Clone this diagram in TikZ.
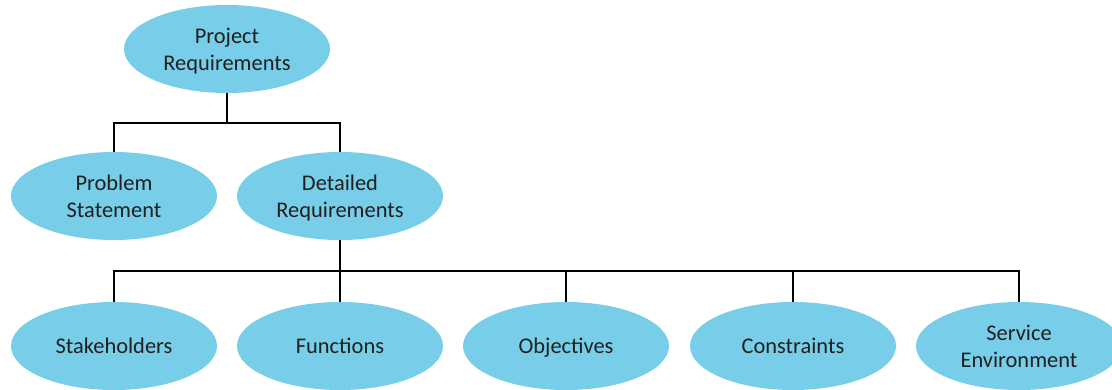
\documentclass[tikz,border=0pt]{standalone}
\usepackage{fontspec}
\setmainfont{Carlito}
\usepackage{tikz}
\usetikzlibrary{positioning,shapes.geometric}
\definecolor{reqblue}{RGB}{120,206,232}

\begin{document}
\begin{tikzpicture}[
    x=1bp, y=-1bp,
    font=\fontsize{22.5}{27.5}\selectfont,
    req/.style={ellipse, fill=reqblue, minimum width=206bp, minimum height=88bp, inner sep=0pt,
      align=center, text depth=0pt, text=black!88},
    link/.style={draw=black, line width=2.1bp},
  ]
    \clip (0,0) rectangle (1112,389);
    \node[req] (root) at (227,49) {Project\\Requirements};
    \node[req] (prob) at (114,196) {Problem\\Statement};
    \node[req] (detail) at (340,196) {Detailed\\Requirements};

    \foreach \i/\x/\lab in {1/114/Stakeholders, 2/340/Functions, 3/566/Objectives, 4/793/Constraints, 5/1019/{Service\\Environment}}
      \node[req] (d\i) at (\x,346) {\lab};

    \coordinate (top bus) at (227,123);
    \coordinate (low bus) at (340,271);
    \draw[link] (root) -- (top bus);
    \draw[link] (top bus) -| (prob);
    \draw[link] (top bus) -| (detail);
    \draw[link] (detail) -- (low bus);
    \foreach \i in {1,...,5}
      \draw[link] (low bus) -| (d\i);
  \end{tikzpicture}
\end{document}
